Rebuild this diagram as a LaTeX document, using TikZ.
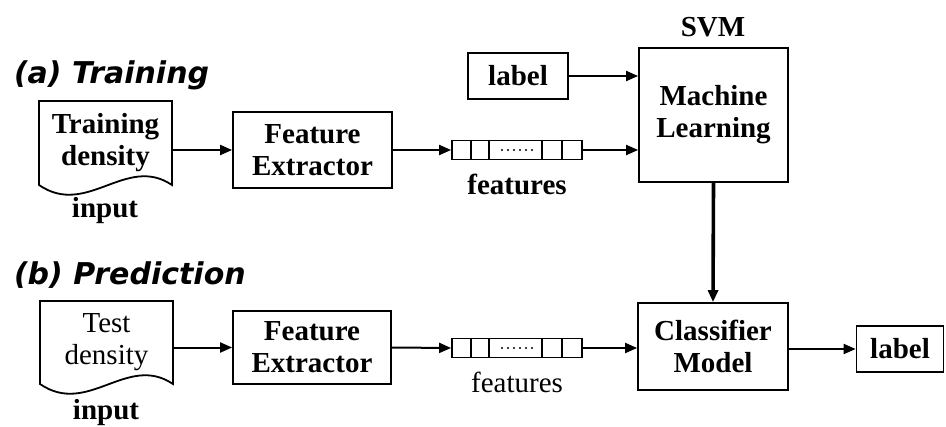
\documentclass[tikz,border=0pt]{standalone}
\usepackage{fontspec}
\setmainfont{Liberation Serif}
\newfontfamily\headfont{DejaVu Sans}
\usetikzlibrary{arrows.meta}
\newcommand{\boxfont}{\bfseries\fontsize{14.5}{16}\selectfont}
\newcommand{\plainfont}{\fontsize{14.5}{16}\selectfont}
\newcommand{\headsize}{\headfont\bfseries\itshape\fontsize{15}{17}\selectfont}
\tikzset{
  box/.style={draw, line width=0.9pt, inner sep=0pt, align=center, font=\boxfont},
  doc/.style={inner sep=0pt, align=center, font=\boxfont},
  vec/.style={draw, line width=0.9pt, inner sep=0pt, minimum width=65pt, minimum height=9.5pt},
  caption/.style={inner sep=0pt, font=\boxfont},
  head/.style={inner sep=0pt, anchor=west, font=\headsize}
}

\begin{document}
\begin{tikzpicture}[x=0.5pt, y=-0.5pt, >={Triangle[length=6pt,width=5pt]}, line width=1pt]
\useasboundingbox (0,0) rectangle (946,427);

% (a) training
\node [head] (heada) at (13,75) {(a) Training};
\node [caption] (svm) at (713,27) {SVM};
\node [doc, minimum width=65.5pt, minimum height=41pt] (docA) at (105.5,143) {Training\\density};
\draw [line width=0.9pt] (docA.south west) -- (docA.north west) -- (docA.north east) -- (docA.south east)
  .. controls +(-46,-31) and +(48,33) .. (docA.south west) -- cycle;
\node [caption] (inputA) at (105,211) {input};
\node [box, minimum width=79.5pt, minimum height=38pt] (feA) at (312.5,150) {Feature\\Extractor};
\node [vec] (vecA) at (517,150) {};
\node [caption] (featA) at (517,184) {features};
\node [box, minimum width=50pt, minimum height=23pt] (labA) at (518,76) {label};
\node [box, minimum width=74.5pt, minimum height=67pt] (ml) at (713.5,115) {Machine\\Learning};

% (b) prediction
\node [head] (headb) at (13,275) {(b) Prediction};
\node [doc, font=\plainfont, minimum width=65.5pt, minimum height=40.5pt] (docB) at (106.5,342.5) {Test\\density};
\draw [line width=0.9pt] (docB.south west) -- (docB.north west) -- (docB.north east) -- (docB.south east)
  .. controls +(-46,-31) and +(48,33) .. (docB.south west) -- cycle;
\node [caption] (inputB) at (106,413) {input};
\node [box, minimum width=79pt, minimum height=36.5pt] (feB) at (312,347.5) {Feature\\Extractor};
\node [vec] (vecB) at (517,348) {};
\node [caption, font=\plainfont] (featB) at (517,382) {features};
\node [box, minimum width=75pt, minimum height=43.5pt] (cm) at (713,346.5) {Classifier\\Model};
\node [box, minimum width=43.5pt, minimum height=23pt] (labB) at (900,349) {label};

% cells of the feature vectors
\foreach \v in {vecA,vecB} {
  \foreach \s in {10,19,45.5,55.5}
    \draw [line width=0.9pt] ([xshift=\s pt]\v.north west) -- ([xshift=\s pt]\v.south west);
  \foreach \d in {-7.5,-4.5,...,7.5}
    \fill ([xshift=\d pt]\v.center) circle (0.6pt);
}

% connectors
\draw [->] (feA.west -| docA.east) -- (feA.west);
\draw [->] (feA.east) -- (vecA.west);
\draw [->] (vecA.east) -- (vecA.east -| ml.west);
\draw [->] (labA.east) -- (labA.east -| ml.west);
\draw [->, line width=1.8pt] (ml.south) -- (cm.north);
\draw [->] (feB.west -| docB.east) -- (feB.west);
\draw [->] (feB.east) -- (vecB.west);
\draw [->] (vecB.east) -- (vecB.east -| cm.west);
\draw [->] (labB.west -| cm.east) -- (labB.west);
\end{tikzpicture}
\end{document}
